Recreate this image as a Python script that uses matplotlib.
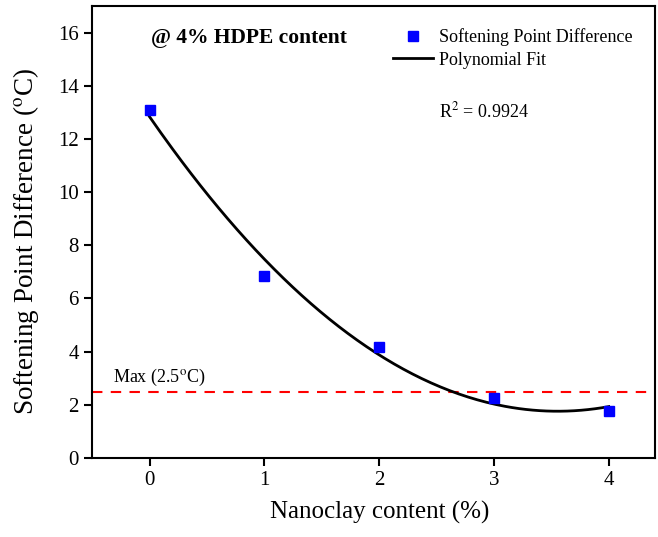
import numpy as np
import matplotlib
matplotlib.use("Agg")
import matplotlib.pyplot as plt

# data
nanoclay = [0, 1, 2, 3, 4]
sp_diff = [13.1, 6.85, 4.18, 2.26, 1.77]
max_limit = 2.5
r2_text = "0.9924"

plt.rcParams["font.family"] = ["Liberation Serif", "DejaVu Serif"]
plt.rcParams["mathtext.fontset"] = "stix"

fig = plt.figure(figsize=(6.58, 5.37), dpi=100)
ax = fig.add_axes([0.14, 0.147, 0.855, 0.842])

# second-order polynomial fit through the points
coef = np.polyfit(nanoclay, sp_diff, 2)
xf = np.linspace(0, 4, 200)
ax.plot(xf, np.polyval(coef, xf), color="black", lw=2, label="Polynomial Fit", zorder=2)
ax.plot(nanoclay, sp_diff, "s", color="blue", ms=7, label="Softening Point Difference",
        zorder=3, ls="none")
ax.axhline(max_limit, color="red", ls=(0, (5, 4)), lw=1.5, zorder=1)

ax.text(-0.32, max_limit + 0.35, "Max (2.5$^{\\rm o}$C)", fontsize=13)
ax.text(0.87, 15.6, "@ 4% HDPE content", fontsize=15.5, fontweight="bold", ha="center")
ax.text(2.52, 12.8, "R$^2$ = " + r2_text, fontsize=13)

h, l = ax.get_legend_handles_labels()
ax.legend(h[::-1], l[::-1], loc="upper right", bbox_to_anchor=(0.984, 0.978), frameon=False,
          fontsize=13, handlelength=2.2, handletextpad=0.35, borderaxespad=0.3, labelspacing=0.3)

ax.set_xlim(-0.5, 4.4)
ax.set_ylim(0, 17)
ax.set_xticks(nanoclay)
ax.set_yticks(range(0, 17, 2))
ax.tick_params(direction="out", length=6, width=1.5, labelsize=15, top=False, right=False)
for s in ax.spines.values():
    s.set_linewidth(1.5)

ax.set_xlabel("Nanoclay content (%)", fontsize=18)
ax.set_ylabel("Softening Point Difference ($^{\\rm o}$C)", fontsize=19.5)
ax.xaxis.set_label_coords(0.512, -0.095)
ax.yaxis.set_label_coords(-0.091, 0.48)

fig.savefig("out.png", dpi=100)
